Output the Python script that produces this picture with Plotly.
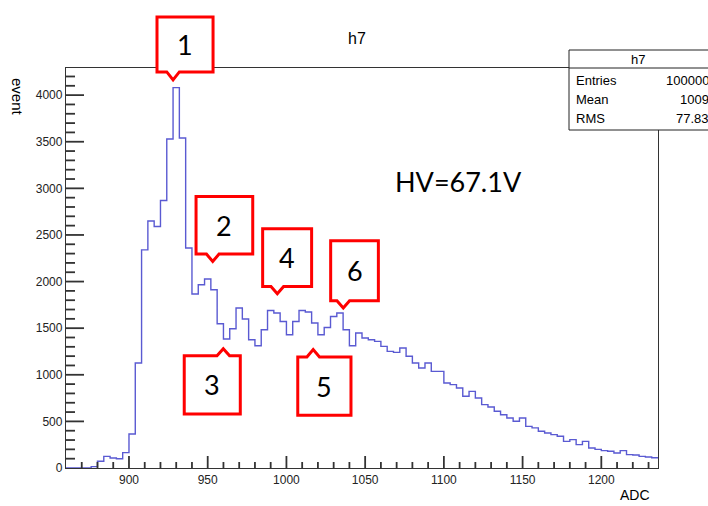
import numpy as np
import plotly.graph_objects as go

# ---------------- data ----------------
bin_low = 860
bin_width = 4
counts = [0, 0, 0, 0, 15, 72, 125, 108, 100, 165,
          365, 1126, 2340, 2650, 2590, 2870, 3530, 4080, 3540, 2360,
          1866, 1966, 2027, 1912, 1548, 1384, 1494, 1716, 1598, 1376,
          1312, 1483, 1690, 1662, 1572, 1430, 1572, 1690, 1673, 1555,
          1430, 1508, 1626, 1662, 1483, 1312, 1448, 1394, 1376, 1358,
          1305, 1251, 1240, 1287, 1198, 1126, 1072, 1126, 1037, 1037,
          912, 894, 858, 769, 822, 751, 680, 655, 608, 572,
          537, 501, 537, 447, 430, 394, 376, 358, 340, 286,
          304, 251, 286, 215, 200, 186, 180, 161, 186, 143,
          140, 125, 118, 110]
x_ticks = [900, 950, 1000, 1050, 1100, 1150, 1200]
x_minor_step = 10
y_ticks = [0, 500, 1000, 1500, 2000, 2500, 3000, 3500, 4000]
y_minor_step = 100
stats_labels = ["Entries", "Mean", "RMS"]
stats_values = ["100000", "1009", "77.83"]
# callouts: label, box x0, x1 (ADC), box y0, y1 (events), tip x, tip y, notch side
callouts = [
    ("1", 917.8, 953.4, 4249, 4839, 928.0, 4163, "bottom"),
    ("2", 942.6, 978.6, 2295, 2912, 953.2, 2215, "bottom"),
    ("3", 935.1, 970.7, 580, 1205, 959.9, 1280, "top"),
    ("4", 984.9, 1016.0, 1947, 2566, 994.2, 1869, "bottom"),
    ("5", 1007.2, 1041.0, 565, 1191, 1017.0, 1270, "top"),
    ("6", 1028.1, 1058.4, 1794, 2437, 1036.1, 1716, "bottom"),
]
hv_text = "HV=67.1V"

# ---------------- layout constants ----------------
W, H = 708, 506
ML, MR, MT, MB = 66, 50, 68, 38
XMIN, XMAX = 860, 1236
YMAX = 4291
PW, PH = W - ML - MR, H - MT - MB
FONT = "Liberation Sans, Arial, sans-serif"
CFONT = "Lato, Open Sans, sans-serif"
TC = "#333333"
TW = 1.8  # tick thickness, px

edges = bin_low + bin_width * np.arange(len(counts) + 1)
yvals = list(counts) + [counts[-1]]

fig = go.Figure()
fig.add_trace(go.Scatter(
    x=edges, y=yvals, mode="lines", line_shape="hv",
    line=dict(color="#5a5ad2", width=1.4), hoverinfo="skip", showlegend=False))


def px(x):
    return (x - XMIN) / (XMAX - XMIN)


def py(y):
    return y / YMAX


def ppx(X):  # pixel -> paper
    return (X - ML) / PW


def ppy(Y):
    return (H - MB - Y) / PH


shapes = []
annotations = []

# inside tick marks (ROOT style)
for v in np.arange(XMIN + x_minor_step, XMAX, x_minor_step):
    L = 12 if int(v) in x_ticks else 6
    shapes.append(dict(type="rect", xref="paper", yref="paper",
                       x0=px(v) - TW / 2 / PW, x1=px(v) + TW / 2 / PW, y0=0, y1=L / PH,
                       line=dict(width=0), fillcolor=TC, layer="above"))
for v in np.arange(y_minor_step, YMAX, y_minor_step):
    L = 18 if int(v) in y_ticks else 9
    shapes.append(dict(type="rect", xref="paper", yref="paper",
                       x0=0, x1=L / PW, y0=py(v) - TW / 2 / PH, y1=py(v) + TW / 2 / PH,
                       line=dict(width=0), fillcolor=TC, layer="above"))

hw = 4.0
for lab, x0, x1, y0, y1, xt, yt, side in callouts:
    if side == "bottom":
        pts = [(x0, y1), (x1, y1), (x1, y0), (xt + hw, y0), (xt, yt), (xt - hw, y0), (x0, y0)]
    else:
        pts = [(x0, y1), (xt - hw, y1), (xt, yt), (xt + hw, y1), (x1, y1), (x1, y0), (x0, y0)]
    path = "M " + " L ".join(f"{px(a):.5f},{py(b):.5f}" for a, b in pts) + " Z"
    shapes.append(dict(type="path", path=path, xref="paper", yref="paper",
                       line=dict(color="#ff0000", width=3), fillcolor="white", layer="above"))
    annotations.append(dict(text=lab, x=px((x0 + x1) / 2), y=py((y0 + y1) / 2),
                            xref="paper", yref="paper", showarrow=False,
                            font=dict(family=CFONT, size=27, color="black"),
                            xanchor="center", yanchor="middle"))

annotations.append(dict(text=hv_text, x=ppx(458), y=ppy(181), xref="paper", yref="paper",
                        showarrow=False, font=dict(family=CFONT, size=27, color="black"),
                        xanchor="center", yanchor="middle"))
annotations.append(dict(text="h7", x=ppx(357), y=ppy(38), xref="paper", yref="paper",
                        showarrow=False, font=dict(family=FONT, size=16, color="black"),
                        xanchor="center", yanchor="middle"))
annotations.append(dict(text="event", x=ppx(18), y=ppy(97), xref="paper", yref="paper",
                        showarrow=False, textangle=90,
                        font=dict(family=FONT, size=15, color="black"),
                        xanchor="center", yanchor="middle"))
annotations.append(dict(text="ADC", x=ppx(652), y=ppy(495), xref="paper", yref="paper",
                        showarrow=False, font=dict(family=FONT, size=14, color="black"),
                        xanchor="right", yanchor="middle"))

# stats box
SX0, SX1, SY0, SY1, SSEP = 569, 714, 50, 130, 68
shapes.append(dict(type="rect", xref="paper", yref="paper",
                   x0=ppx(SX0), x1=ppx(SX1), y0=ppy(SY1), y1=ppy(SY0),
                   line=dict(color="#222", width=1), fillcolor="white", layer="above"))
shapes.append(dict(type="line", xref="paper", yref="paper",
                   x0=ppx(SX0), x1=ppx(SX1), y0=ppy(SSEP), y1=ppy(SSEP),
                   line=dict(color="#222", width=1), layer="above"))
annotations.append(dict(text="h7", x=ppx(638), y=ppy(59), xref="paper", yref="paper",
                        showarrow=False, font=dict(family=FONT, size=13, color="black"),
                        xanchor="center", yanchor="middle"))
for i, (lab, val) in enumerate(zip(stats_labels, stats_values)):
    yy = 80 + i * 19.5
    annotations.append(dict(text=lab, x=ppx(574), y=ppy(yy), xref="paper", yref="paper",
                            showarrow=False, font=dict(family=FONT, size=13, color="black"),
                            xanchor="left", yanchor="middle"))
    annotations.append(dict(text=val, x=ppx(711), y=ppy(yy), xref="paper", yref="paper",
                            showarrow=False, font=dict(family=FONT, size=13, color="black"),
                            xanchor="right", yanchor="middle"))

fig.update_layout(
    width=W, height=H, margin=dict(l=ML, r=MR, t=MT, b=MB, pad=0),
    paper_bgcolor="white", plot_bgcolor="white", showlegend=False,
    font=dict(family=FONT, size=12, color="#222"),
    shapes=shapes, annotations=annotations,
    xaxis=dict(range=[XMIN, XMAX], tickmode="array", tickvals=x_ticks,
               ticktext=[str(v) for v in x_ticks], ticks="",
               showline=True, linecolor=TC, linewidth=1.3, mirror=True,
               showgrid=False, zeroline=False,
               tickfont=dict(family=FONT, size=12, color="#222")),
    yaxis=dict(range=[0, YMAX], tickmode="array", tickvals=y_ticks,
               ticktext=[str(v) for v in y_ticks], ticks="",
               showline=True, linecolor=TC, linewidth=1.3, mirror=True,
               showgrid=False, zeroline=False,
               tickfont=dict(family=FONT, size=12, color="#222")),
)

fig.write_html("out.html")
